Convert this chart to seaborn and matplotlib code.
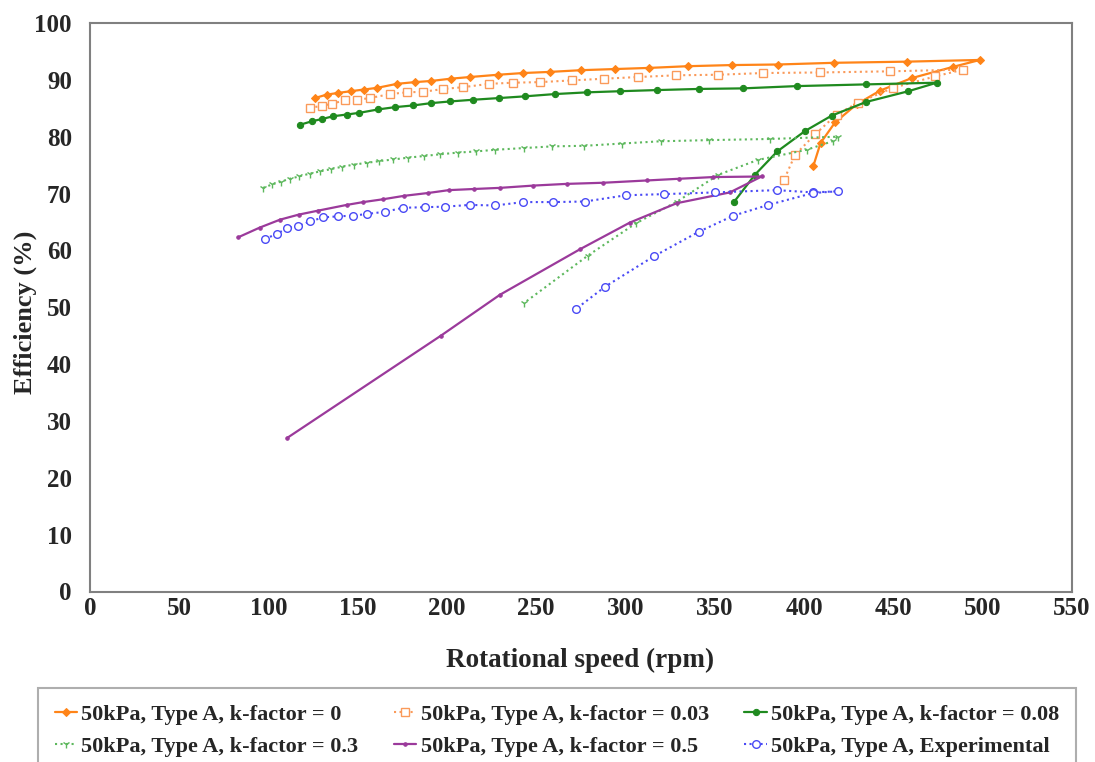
import matplotlib
matplotlib.use("Agg")
import matplotlib.pyplot as plt
import seaborn as sns
import pandas as pd

# ---------------- data ----------------
k0_x = [126, 132.6, 139, 146, 153.5, 161, 172, 182, 191, 202, 213, 228.7, 242.7, 257.7, 275.1, 294.1, 313.2, 334.8, 359.5, 385.2, 417, 457.5, 498.6,
        483.7, 460.3, 442.6, 429.5, 417.4, 409.3, 405.2]
k0_y = [86.8, 87.4, 87.7, 88.0, 88.3, 88.6, 89.3, 89.6, 89.8, 90.2, 90.5, 90.9, 91.2, 91.4, 91.7, 91.9, 92.1, 92.4, 92.6, 92.7, 93.0, 93.2, 93.5,
        92.3, 90.3, 88.1, 85.7, 82.5, 78.9, 74.8]

k003_x = [123.2, 129.8, 135.4, 142.9, 149.8, 156.9, 168.1, 177.4, 186.7, 197.9, 208.8, 223.7, 237.1, 252.1, 269.8, 288, 307.2, 328.3, 352, 377.2, 409, 448.2, 489.2,
          473.4, 450, 430.4, 418.3, 406.2, 395, 388.8]
k003_y = [85.1, 85.4, 85.8, 86.4, 86.5, 86.8, 87.5, 87.8, 87.9, 88.4, 88.7, 89.3, 89.5, 89.6, 89.9, 90.2, 90.5, 90.8, 90.9, 91.2, 91.3, 91.5, 91.8,
          90.6, 88.6, 86.0, 83.9, 80.4, 76.8, 72.4]

k008_x = [117.6, 124.2, 129.8, 136.3, 143.8, 150.9, 161.5, 170.9, 181.1, 191, 201.7, 214.7, 229.3, 243.7, 260.5, 278.3, 296.9, 317.5, 341, 365.7, 395.9, 434.7, 474.4,
          458.5, 434.7, 415.5, 400.6, 385, 372.5, 361]
k008_y = [82.1, 82.7, 83.1, 83.6, 83.9, 84.2, 84.8, 85.2, 85.5, 85.9, 86.2, 86.5, 86.8, 87.1, 87.5, 87.8, 88.0, 88.2, 88.4, 88.5, 88.9, 89.2, 89.5,
          88.0, 86.1, 83.7, 81.0, 77.4, 73.3, 68.6]

k03_x = [97, 102, 107, 112, 117, 123, 129, 135, 141, 148, 155, 162, 170, 178, 187, 196, 206, 216, 227, 243, 259, 277, 298, 320, 347, 381, 419,
         416, 401.5, 374, 352, 329, 306, 279, 243]
k03_y = [71.0, 71.6, 72.1, 72.6, 73.0, 73.5, 73.9, 74.3, 74.7, 75.1, 75.4, 75.7, 76.0, 76.3, 76.6, 76.9, 77.2, 77.4, 77.7, 78.0, 78.3, 78.4, 78.8, 79.2, 79.4, 79.6, 80.0,
         79.2, 77.7, 75.9, 73.3, 68.6, 64.8, 59.1, 50.7]

k05_x = [83, 95, 106.4, 117, 127.9, 143.8, 153.1, 164.3, 176, 189.5, 201, 215, 229.7, 248.3, 267, 287.6, 311.9, 330, 349.2, 376.3,
         358.5, 328.7, 302.5, 274.5, 229.7, 196.6, 110.4]
k05_y = [62.3, 64.0, 65.4, 66.3, 67.0, 68.0, 68.5, 69.0, 69.6, 70.1, 70.6, 70.8, 71.0, 71.4, 71.7, 71.9, 72.3, 72.6, 72.9, 73.0,
         70.2, 68.3, 64.9, 60.2, 52.2, 45.0, 27.0]

exp_x = [98, 104.6, 110.5, 116.7, 123.2, 130.7, 139.1, 147.2, 155, 165.3, 175.5, 187.7, 199, 213, 227, 242.7, 259.6, 277.3, 300.3, 321.7, 350.1, 384.7, 405.2, 419.2,
         405.2, 380, 360.4, 341.2, 316.1, 288.5, 272.3]
exp_y = [62.0, 62.9, 63.9, 64.3, 65.1, 65.8, 66.0, 66.1, 66.4, 66.8, 67.5, 67.6, 67.7, 68.0, 67.9, 68.5, 68.5, 68.6, 69.7, 69.9, 70.2, 70.6, 70.2, 70.4,
         70.1, 68.0, 66.1, 63.3, 59.0, 53.6, 49.7]

labels = ["50kPa, Type A, k-factor = 0",
          "50kPa, Type A, k-factor = 0.03",
          "50kPa, Type A, k-factor = 0.08",
          "50kPa, Type A, k-factor = 0.3",
          "50kPa, Type A, k-factor = 0.5",
          "50kPa, Type A, Experimental"]

x_ticks = [0, 50, 100, 150, 200, 250, 300, 350, 400, 450, 500, 550]
y_ticks = [0, 10, 20, 30, 40, 50, 60, 70, 80, 90, 100]

# ---------------- styling ----------------
sns.set_theme(style="white")
plt.rcParams['font.family'] = ['Liberation Serif', 'DejaVu Serif']
plt.rcParams['font.weight'] = 'bold'

fig = plt.figure(figsize=(10.95, 7.62), dpi=100)
ax = fig.add_axes([90/1095, 1-591.5/762, (1071.7-90)/1095, (591.5-23)/762])

c_or, c_or2, c_gr, c_gr2, c_pu, c_bl = "#FF8418", "#FA9A5A", "#1F8A1F", "#5DB85D", "#9B3A9B", "#4A4AF5"
series = [
    (k0_x, k0_y, dict(color=c_or, linestyle="-", marker="D", markersize=4, lw=1.6,
                      markeredgecolor=c_or, markerfacecolor=c_or)),
    (k003_x, k003_y, dict(color=c_or2, linestyle=":", marker="s", markersize=5.5, lw=1.5,
                          markerfacecolor="white", markeredgecolor=c_or2, markeredgewidth=1.0)),
    (k008_x, k008_y, dict(color=c_gr, linestyle="-", marker="o", markersize=4.5, lw=1.6,
                          markeredgecolor=c_gr, markerfacecolor=c_gr)),
    (k03_x, k03_y, dict(color=c_gr2, linestyle=":", marker="1", markersize=6, lw=1.5,
                        markeredgecolor=c_gr2, markeredgewidth=1.0)),
    (k05_x, k05_y, dict(color=c_pu, linestyle="-", marker="o", markersize=2.5, lw=1.6,
                        markeredgecolor=c_pu, markerfacecolor=c_pu)),
    (exp_x, exp_y, dict(color=c_bl, linestyle=":", marker="o", markersize=5.5, lw=1.5,
                        markerfacecolor="white", markeredgecolor=c_bl, markeredgewidth=1.0)),
]

for (xs, ys, st), lab in zip(series, labels):
    df = pd.DataFrame({"x": xs, "y": ys})
    sns.lineplot(data=df, x="x", y="y", sort=False, estimator=None, ax=ax, label=lab, **st)

h, l = ax.get_legend_handles_labels()
ax.get_legend().remove()

ax.set_xlim(0, 550)
ax.set_ylim(0, 100)
ax.set_xticks(x_ticks)
ax.set_yticks(y_ticks)
ax.tick_params(axis='both', direction='in', length=7, width=1, color="#808080", labelsize=18)
ax.tick_params(axis='x', pad=4)
ax.tick_params(axis='y', pad=13)
for lab_ in ax.get_xticklabels() + ax.get_yticklabels():
    lab_.set_fontweight('bold')
for s in ax.spines.values():
    s.set_color("#808080")
    s.set_linewidth(1.5)

ax.set_xlabel("Rotational speed (rpm)", fontsize=19.5, fontweight='bold')
ax.set_ylabel("Efficiency (%)", fontsize=19, fontweight='bold')
ax.xaxis.set_label_coords((580 - 90) / 981.7, (591.5 - 660) / 568.5)
ax.yaxis.set_label_coords((25 - 90) / 981.7, (591.5 - 312) / 568.5)
ax.xaxis.label.set_va('center')
ax.yaxis.label.set_va('center')

order = [0, 3, 1, 4, 2, 5]
leg = fig.legend([h[i] for i in order], [l[i] for i in order], loc="upper left",
                 bbox_to_anchor=(38/1095, 1-688/762), ncol=3, borderaxespad=0,
                 frameon=True, fancybox=False, edgecolor="#9A9A9A",
                 prop=dict(family='Liberation Serif', weight='bold', size=16),
                 columnspacing=1.6, handlelength=1.0, handletextpad=0.2,
                 borderpad=0.75, labelspacing=0.5)
leg.get_frame().set_linewidth(1.5)

fig.savefig("out.png", dpi=100)
